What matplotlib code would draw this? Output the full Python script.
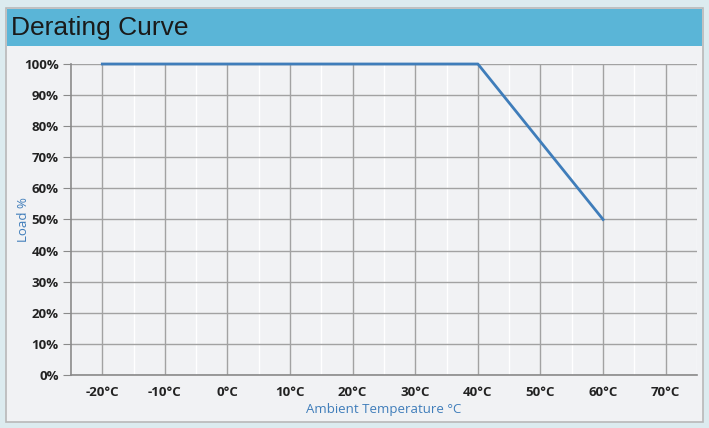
import matplotlib.pyplot as plt
from matplotlib.patches import Rectangle
from matplotlib.ticker import MultipleLocator, FuncFormatter

# Derating curve data
temps = [-20, 40, 60]
load = [100, 100, 50]
x_ticks = [-20, -10, 0, 10, 20, 30, 40, 50, 60, 70]
y_ticks = [0, 10, 20, 30, 40, 50, 60, 70, 80, 90, 100]

plt.rcParams['font.family'] = ['Open Sans', 'DejaVu Sans']

fig = plt.figure(figsize=(7.09, 4.28), dpi=100)
fig.patch.set_facecolor('#dcebef')

# panel and header
fig.patches.append(Rectangle((6 / 709, 1 - 422 / 428), 697 / 709, 414 / 428,
                             transform=fig.transFigure, facecolor='#f1f2f4',
                             edgecolor='#b8b8b8', linewidth=1.2, zorder=-3))
fig.patches.append(Rectangle((7 / 709, 1 - 46 / 428), 695 / 709, 37 / 428,
                             transform=fig.transFigure, facecolor='#5ab5d7',
                             edgecolor='none', zorder=-2))
fig.text(11 / 709, 1 - 28 / 428, "Derating Curve", fontsize=19,
         color='#1a1a1a', va='center', ha='left', family=['Liberation Sans', 'DejaVu Sans'])

ax = fig.add_axes([71 / 709, 1 - 375 / 428, 626 / 709, 311 / 428])
ax.set_facecolor('#f1f2f4')
ax.set_xlim(-25, 75)
ax.set_ylim(0, 100)

ax.xaxis.set_minor_locator(MultipleLocator(5))
ax.set_xticks(x_ticks)
ax.set_yticks(y_ticks)
ax.xaxis.set_major_formatter(FuncFormatter(lambda v, p: f"{int(v)}°C"))
ax.yaxis.set_major_formatter(FuncFormatter(lambda v, p: f"{int(v)}%"))

ax.grid(which='major', color='#a2a2a2', linewidth=1.0)
ax.grid(which='minor', axis='x', color='#ffffff', linewidth=1.0)
ax.set_axisbelow(True)

for s in ['top', 'right']:
    ax.spines[s].set_visible(False)
for s in ['left', 'bottom']:
    ax.spines[s].set_color('#8a8a8a')
    ax.spines[s].set_linewidth(1.2)

ax.tick_params(axis='y', length=6, color='#8a8a8a', labelsize=9.5, labelcolor='#222222', pad=3)
ax.tick_params(axis='x', which='both', length=0, labelsize=9.5, labelcolor='#222222', pad=8)
for lbl in ax.get_xticklabels() + ax.get_yticklabels():
    lbl.set_fontweight('bold')

ax.plot(temps, load, color='#3f7dba', linewidth=2.0, clip_on=False)

ax.set_xlabel("Ambient Temperature °C", color='#3f7dba', fontsize=9.5, labelpad=3)
ax.set_ylabel("Load %", color='#3f7dba', fontsize=9.5, labelpad=-4.5)

fig.savefig("out.png", dpi=100, facecolor=fig.get_facecolor())
